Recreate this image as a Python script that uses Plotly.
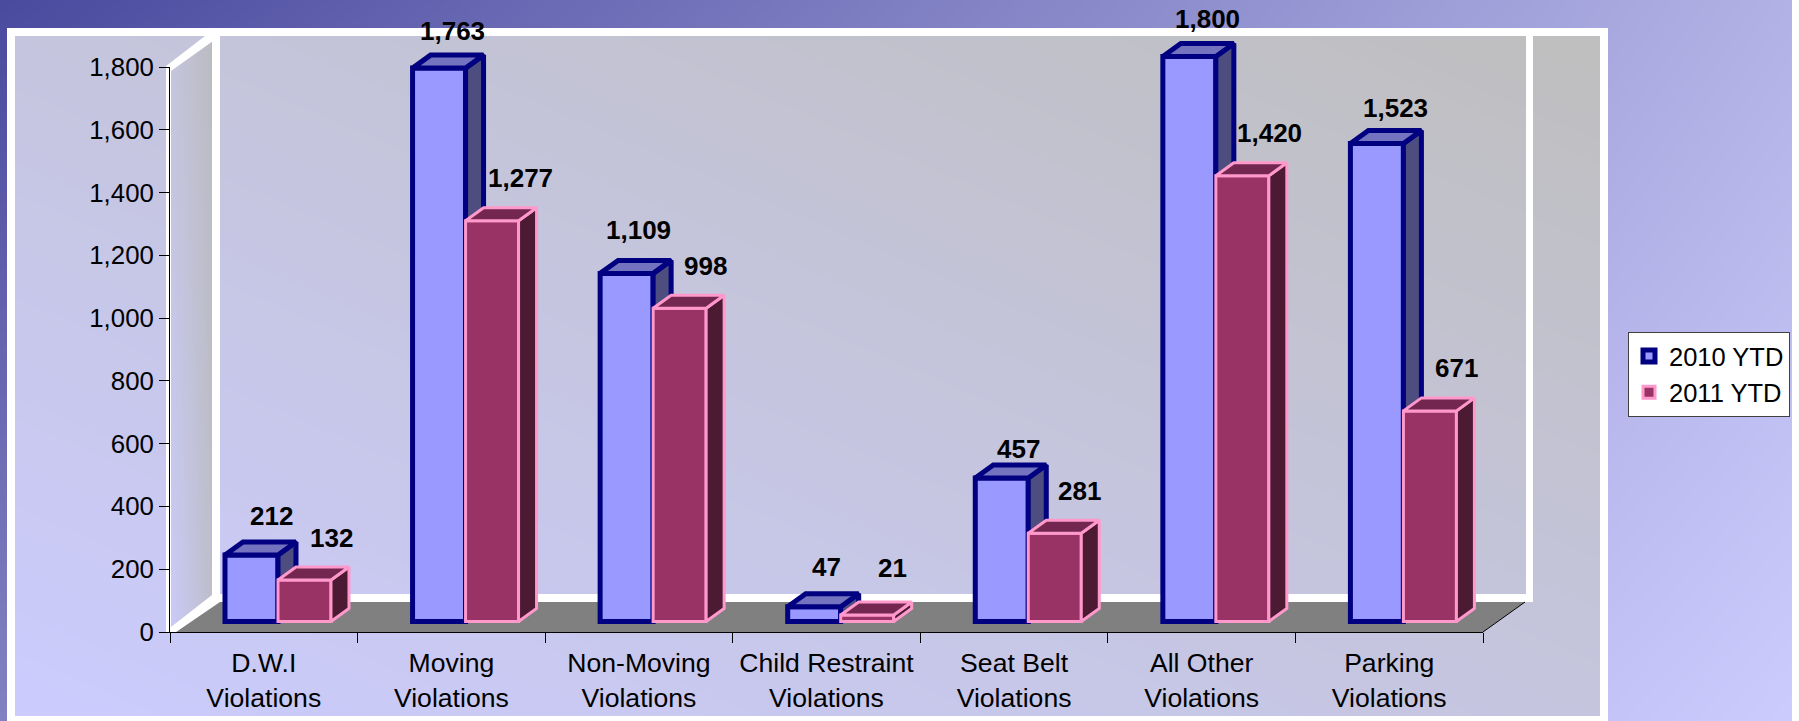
import base64, struct, zlib
import numpy as np
import plotly.graph_objects as go

# ---------- data ----------
categories = ["D.W.I<br>Violations", "Moving<br>Violations", "Non-Moving<br>Violations",
              "Child Restraint<br>Violations", "Seat Belt<br>Violations",
              "All Other<br>Violations", "Parking<br>Violations"]
values_2010 = [212, 1763, 1109, 47, 457, 1800, 1523]
values_2011 = [132, 1277, 998, 21, 281, 1420, 671]
series_names = ["2010 YTD", "2011 YTD"]

# ---------- layout geometry (page pixels) ----------
W, H = 1799, 721
AX_L, AX_R, AX_TOP, AX_ZERO = 170, 1483, 67, 632
Y_MAX = 1800
K = (AX_ZERO - AX_TOP) / Y_MAX          # px per value
CAT = (AX_R - AX_L) / len(categories)   # px per category
BAR_BASE = 621.5                        # px of the bars' zero line (set back in depth)
BAR_W = 53 / CAT
OFF_A = -38.8 / CAT
OFF_B = OFF_A + BAR_W
DX = 18 / CAT
DY = 13 / K

# label placement relative to category centre / value height (px)
lab_dx_2010 = [8, 1, 0, 0, 4, 5.5, 6]
lab_dy_2010 = [39, 37, 43, 40, 29, 37.5, 35]
lab_dx_2011 = [68, 69.5, 67, 66, 65.5, 68, 67]
lab_dy_2011 = [42, 43, 42, 47, 42, 43, 43]

FONT = "Liberation Sans, Arial, sans-serif"

# ---------- gradient backdrop ----------
def lerp(a, b, t):
    return a + (b - a) * t

yy, xx = np.mgrid[0:H, 0:W].astype(float)
u = np.clip(xx / 1792, 0, 1)
v = yy / (H - 1)
img = np.zeros((H, W, 3))
tl, tr, bl, br = (0x4a, 0x4a, 0x9f), (0xb2, 0xb2, 0xe6), (0x82, 0x82, 0xc2), (0xcc, 0xcc, 0xff)
for c in range(3):
    img[..., c] = lerp(lerp(tl[c], tr[c], u), lerp(bl[c], br[c], u), v)
img[:, 1792:] = 255

# inner panel gradient: lavender bottom-left to grey top-right
px0, px1, py0, py1 = 15, 1600, 36, 716
t = np.clip(((xx - px0) / (px1 - px0) + (py1 - yy) / (py1 - py0)) / 2, 0, 1)
panel = np.stack([lerp(0xcc, 0xbf, t), lerp(0xcc, 0xbf, t), lerp(0xff, 0xbf, t)], axis=-1)
mask = (xx >= px0) & (xx < px1) & (yy >= py0) & (yy < py1)
img[mask] = panel[mask]

# side wall gradient
sx0, sx1 = 171, 212
frac = (xx - sx0) / (sx1 - sx0)
top_edge = lerp(70, 41, frac)
bot_edge = lerp(627, 597, frac)
wall = (xx >= sx0) & (xx < sx1) & (yy >= top_edge) & (yy <= bot_edge)
alpha = np.clip(frac, 0, 1)[..., None] * 0.7
blended = img * (1 - alpha) + 0xb8 * alpha
img[wall] = blended[wall]

def png_uri(arr):
    a = np.clip(arr, 0, 255).astype(np.uint8)
    raw = b"".join(b"\x00" + a[i].tobytes() for i in range(a.shape[0]))
    def chunk(tag, data):
        return struct.pack(">I", len(data)) + tag + data + struct.pack(">I", zlib.crc32(tag + data))
    ihdr = struct.pack(">IIBBBBB", a.shape[1], a.shape[0], 8, 2, 0, 0, 0)
    blob = b"\x89PNG\r\n\x1a\n" + chunk(b"IHDR", ihdr) + chunk(b"IDAT", zlib.compress(raw, 9)) + chunk(b"IEND", b"")
    return "data:image/png;base64," + base64.b64encode(blob).decode()

# ---------- chrome shapes (paper coordinates from page pixels) ----------
def fx(p):
    return p / W
def fy(p):
    return 1 - p / H

def rect(x0, y0, x1, y1, color="white"):
    return dict(type="rect", xref="paper", yref="paper", layer="below",
                x0=fx(x0), x1=fx(x1), y0=fy(y1), y1=fy(y0),
                fillcolor=color, line=dict(width=0))

def poly(points, color, line=None):
    d = "M" + "L".join(f"{fx(a):.5f},{fy(b):.5f}" for a, b in points) + "Z"
    return dict(type="path", xref="paper", yref="paper", layer="below", path=d,
                fillcolor=color, line=line or dict(width=0))

shapes = [
    rect(7, 28, 1608, 36), rect(7, 716, 1608, 721), rect(7, 28, 15, 721), rect(1600, 28, 1608, 721),
    poly([(176, 632), (218, 602), (1525, 602), (1483, 632)], "#808080"),
    rect(212, 36, 220, 602), rect(1526, 36, 1533, 602), rect(212, 594, 1533, 602),
    rect(166, 66, 171, 632),
    poly([(166, 66), (205, 36), (220, 36), (171, 71)], "white"),
    poly([(166, 632), (171, 627), (212, 595), (220, 602), (176, 632)], "white"),
    dict(type="line", xref="paper", yref="paper", layer="below",
         x0=fx(1483), y0=fy(632), x1=fx(1525), y1=fy(602), line=dict(color="black", width=1)),
]

# ---------- figure ----------
fig = go.Figure()

# invisible trace that gives the visible axes their categories
fig.add_trace(go.Scatter(x=categories, y=[0] * len(categories), xaxis="x", yaxis="y", mode="lines",
                         line=dict(width=0), opacity=0, hoverinfo="skip", showlegend=False))

def depth_faces(vals, offset):
    sx, sy, tx, ty = [], [], [], []
    for i, val in enumerate(vals):
        xl = i + offset
        xr = xl + BAR_W
        sx += [xr, xr, xr + DX, xr + DX, xr, None]
        sy += [0, val, val + DY, DY, 0, None]
        tx += [xl, xr, xr + DX, xl + DX, xl, None]
        ty += [val, val, val + DY, val + DY, val, None]
    return sx, sy, tx, ty

def add_series(vals, offset, name, front, top, side, edge, lw, xa, ya):
    sx, sy, tx, ty = depth_faces(vals, offset)
    line = dict(color=edge, width=lw)
    fig.add_trace(go.Bar(x=list(range(len(vals))), y=vals, name=name, width=BAR_W, offset=offset,
                         marker=dict(color=front, line=dict(color=edge, width=lw)),
                         xaxis=xa, yaxis=ya, hovertext=categories))
    fig.add_trace(go.Scatter(x=sx, y=sy, mode="lines", fill="toself", fillcolor=side, line=line,
                             xaxis=xa, yaxis=ya, hoverinfo="skip", showlegend=False))
    fig.add_trace(go.Scatter(x=tx, y=ty, mode="lines", fill="toself", fillcolor=top, line=line,
                             xaxis=xa, yaxis=ya, hoverinfo="skip", showlegend=False))

add_series(values_2010, OFF_A, series_names[0], "#9999ff", "#7373bf", "#4d4d80", "#000080", 5, "x2", "y2")
add_series(values_2011, OFF_B, series_names[1], "#993366", "#732650", "#4d1a33", "#ff99cc", 3, "x3", "y3")

annotations = []
for vals, dxs, dys, xa, ya in [(values_2010, lab_dx_2010, lab_dy_2010, "x2", "y2"),
                               (values_2011, lab_dx_2011, lab_dy_2011, "x3", "y3")]:
    for i, val in enumerate(vals):
        annotations.append(dict(x=i, y=val, xref=xa, yref=ya, text=f"{val:,}", showarrow=False,
                                xanchor="center", yanchor="middle", xshift=dxs[i], yshift=dys[i],
                                font=dict(family=FONT, size=26, color="black", weight="bold")))

# hidden full-page axes on the same scale as the visible ones
u_range = [(0 - AX_L) / CAT - 0.5, (W - AX_L) / CAT - 0.5]
v_range = [(BAR_BASE - H) / K, BAR_BASE / K]
hidden = dict(visible=False, domain=[0, 1], fixedrange=True)

fig.update_layout(
    width=W, height=H, autosize=False,
    margin=dict(l=0, r=0, t=0, b=0, pad=0, autoexpand=False),
    paper_bgcolor="rgba(0,0,0,0)", plot_bgcolor="rgba(0,0,0,0)",
    font=dict(family=FONT, color="black"),
    images=[dict(source=png_uri(img), xref="paper", yref="paper", x=0, y=1, sizex=1, sizey=1,
                 sizing="stretch", layer="below", xanchor="left", yanchor="top")],
    shapes=shapes, annotations=annotations,
    xaxis=dict(domain=[AX_L / W, AX_R / W], anchor="y", type="category", categoryorder="array",
               categoryarray=categories, range=[-0.5, len(categories) - 0.5], tickson="boundaries",
               ticks="outside", ticklen=10, automargin=False, ticklabelstandoff=7,
               tickcolor="black", tickwidth=1, showline=True, linecolor="black", linewidth=1,
               showgrid=False, zeroline=False, tickangle=0, tickfont=dict(family=FONT, size=26.6, color="black")),
    yaxis=dict(domain=[1 - AX_ZERO / H, 1 - AX_TOP / H], anchor="x", range=[0, Y_MAX], dtick=200,
               tickformat=",", ticks="outside", ticklen=10, tickcolor="black", tickwidth=1, automargin=False,
               showline=True, linecolor="black", linewidth=1, showgrid=False, zeroline=False,
               tickfont=dict(family=FONT, size=25.8, color="black")),
    xaxis2=dict(anchor="y2", range=u_range, **hidden),
    yaxis2=dict(anchor="x2", range=v_range, **hidden),
    xaxis3=dict(anchor="y3", range=u_range, **hidden),
    yaxis3=dict(anchor="x3", range=v_range, **hidden),
    legend=dict(x=1628 / W, y=1 - 332 / H, xanchor="left", yanchor="top", bgcolor="white",
                bordercolor="#404040", borderwidth=1, font=dict(family=FONT, size=25.5, color="black"),
                traceorder="normal", itemwidth=30),
    showlegend=True,
)

fig.write_html("out.html", config={"displayModeBar": False},
               post_script="document.body.style.margin='0';document.documentElement.style.overflow='hidden';")
